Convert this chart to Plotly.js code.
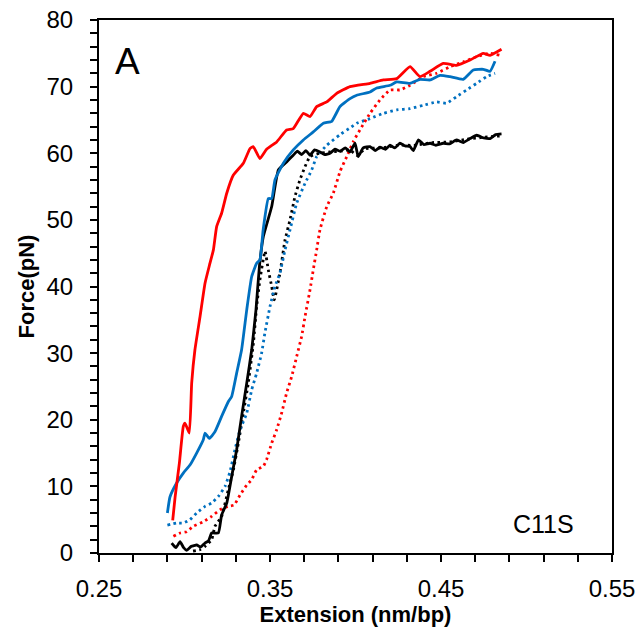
<!DOCTYPE html>
<html>
<head>
<meta charset="utf-8">
<script src="https://cdn.plot.ly/plotly-3.0.1.min.js"></script>
<style>html,body{margin:0;padding:0;background:#fff;}#chart{width:644px;height:635px;}</style>
</head>
<body>
<div id="chart"></div>
<script>
// Extension (nm/bp) and Force (pN) values
const redSolidX = [0.2931,0.2945,0.2970,0.2993,0.3003,0.3028,0.3042,0.3061,0.3091,0.3120,0.3149,0.3169,0.3188,0.3217,0.3247,0.3285,0.3344,0.3383,0.3402,0.3441,0.3480,0.3539,0.3597,0.3636,0.3695,0.3734,0.3773,0.3832,0.3890,0.3968,0.4085,0.4163,0.4241,0.4319,0.4377,0.4436,0.4513,0.4591,0.4670,0.4747,0.4787,0.4854];
const redSolidY = [4.9,8.4,13.5,19.0,19.5,18.0,25.5,30.5,35.5,40.5,43.5,45.5,49.0,51.0,54.0,56.7,58.5,60.7,61.0,59.2,60.6,61.7,63.5,63.7,66.0,65.5,67.0,67.7,69.0,70.0,70.5,71.0,71.2,73.0,71.5,72.3,73.5,73.2,74.0,75.0,74.7,75.6];

const blueSolidX = [0.2900,0.2915,0.2954,0.2993,0.3032,0.3071,0.3110,0.3120,0.3145,0.3178,0.3217,0.3256,0.3276,0.3305,0.3334,0.3364,0.3393,0.3422,0.3441,0.3460,0.3490,0.3510,0.3529,0.3578,0.3636,0.3695,0.3753,0.3812,0.3861,0.3909,0.3968,0.4007,0.4085,0.4124,0.4202,0.4241,0.4319,0.4377,0.4436,0.4494,0.4553,0.4630,0.4689,0.4747,0.4787,0.4816];
const blueSolidY = [6.0,8.4,10.5,12.0,13.2,15.0,17.0,18.0,17.2,18.2,20.5,22.7,23.5,27.0,30.5,36.5,41.5,43.5,44.0,48.5,53.2,53.2,56.0,58.5,60.5,62.0,63.2,64.5,64.8,67.0,68.2,68.7,69.2,69.8,70.2,70.7,70.5,71.1,71.0,71.7,71.5,71.1,72.5,72.6,72.3,73.8];

const blackSolidX = [0.2925,0.2950,0.2974,0.2995,0.3013,0.3040,0.3071,0.3095,0.3120,0.3140,0.3159,0.3198,0.3217,0.3247,0.3276,0.3305,0.3334,0.3364,0.3393,0.3418,0.3438,0.3461,0.3510,0.3549,0.3597,0.3636,0.3660,0.3685,0.3710,0.3734,0.3760,0.3792,0.3820,0.3851,0.3880,0.3910,0.3940,0.3968,0.3997,0.4016,0.4045,0.4085,0.4115,0.4143,0.4175,0.4202,0.4230,0.4260,0.4290,0.4319,0.4338,0.4368,0.4400,0.4436,0.4470,0.4513,0.4550,0.4591,0.4630,0.4670,0.4709,0.4750,0.4787,0.4820,0.4854];
const blackSolidY = [1.5,0.8,1.7,0.8,0.4,1.0,1.2,0.9,1.5,1.8,3.0,3.0,5.7,7.5,11.5,15.5,20.5,25.5,30.5,36.5,43.0,47.5,52.0,57.5,58.7,59.7,60.3,59.8,60.4,59.7,60.5,60.2,59.8,60.0,60.6,60.3,60.8,60.2,61.5,59.5,60.8,61.0,60.4,60.9,60.6,61.2,60.8,61.5,61.1,61.0,60.4,62.0,61.3,61.5,61.2,61.5,61.4,62.0,61.6,62.2,62.7,62.3,62.2,62.8,62.9];

const blackDotX = [0.3050,0.3090,0.3120,0.3159,0.3178,0.3217,0.3256,0.3286,0.3315,0.3344,0.3373,0.3403,0.3422,0.3441,0.3471,0.3490,0.3510,0.3525,0.3558,0.3588,0.3617,0.3646,0.3675,0.3705,0.3734,0.3792,0.3850,0.3910,0.3968,0.4007,0.4060,0.4150,0.4250,0.4350,0.4450,0.4550,0.4650,0.4750,0.4850];
const blackDotY = [0.3,0.5,1.0,2.0,4.0,5.5,9.5,12.5,16.5,21.0,25.5,31.5,37.0,41.0,45.3,42.5,40.0,38.0,42.0,47.0,50.0,53.5,56.0,58.0,59.5,60.0,60.2,60.3,60.5,59.7,60.7,60.8,61.2,61.2,61.6,61.7,62.1,62.4,62.6];

const blueDotX = [0.2900,0.2954,0.2993,0.3032,0.3071,0.3120,0.3159,0.3198,0.3237,0.3266,0.3295,0.3325,0.3364,0.3393,0.3422,0.3451,0.3470,0.3500,0.3529,0.3558,0.3588,0.3617,0.3656,0.3705,0.3744,0.3773,0.3832,0.3910,0.3968,0.4007,0.4085,0.4163,0.4241,0.4319,0.4397,0.4474,0.4533,0.4591,0.4650,0.4709,0.4767,0.4816];
const blueDotY = [4.2,4.5,4.5,5.0,6.0,7.0,7.5,8.5,10.0,12.2,15.5,18.5,21.0,24.5,27.0,30.0,33.0,37.0,40.0,42.0,45.5,48.5,52.5,55.5,57.5,59.5,61.2,62.8,63.8,64.5,65.2,66.0,66.5,66.7,67.2,67.7,67.5,68.5,69.5,70.5,71.5,72.0];

const redDotX = [0.2935,0.2974,0.3013,0.3051,0.3110,0.3159,0.3208,0.3256,0.3290,0.3325,0.3364,0.3393,0.3422,0.3461,0.3480,0.3510,0.3539,0.3568,0.3597,0.3627,0.3656,0.3685,0.3705,0.3734,0.3753,0.3773,0.3792,0.3832,0.3870,0.3910,0.3949,0.3988,0.4026,0.4085,0.4143,0.4202,0.4260,0.4319,0.4397,0.4474,0.4553,0.4630,0.4709,0.4787,0.4845];
const redDotY = [2.5,3.0,3.2,4.0,4.7,5.5,6.5,7.0,7.2,8.7,10.2,11.0,12.5,13.0,14.0,16.5,18.5,21.0,24.0,26.5,29.5,32.5,35.5,39.5,42.5,45.5,48.5,52.0,54.0,57.3,59.5,61.8,63.5,66.0,68.0,69.5,69.5,70.2,71.5,72.0,73.0,73.7,74.5,75.0,74.7];

const xTickVals = [0.25, 0.35, 0.45, 0.55];
const xTickText = ["0.25", "0.35", "0.45", "0.55"];
const yTickVals = [0, 10, 20, 30, 40, 50, 60, 70, 80];

const RED = "#ff0000", BLUE = "#0070c0", BLACK = "#000000";
function tr(x, y, color, dotted) {
  return {x: x, y: y, type: "scatter", mode: "lines", hoverinfo: "skip",
    line: {color: color, width: 2.8, dash: dotted ? "2.5px,3.5px" : "solid", shape: "spline", smoothing: 0.4}};
}
const data = [
  tr(blackDotX, blackDotY, BLACK, true),
  tr(blueDotX, blueDotY, BLUE, true),
  tr(redDotX, redDotY, RED, true),
  tr(blackSolidX, blackSolidY, BLACK, false),
  tr(blueSolidX, blueSolidY, BLUE, false),
  tr(redSolidX, redSolidY, RED, false)
];
const layout = {
  width: 644, height: 635,
  margin: {l: 99, r: 32, t: 20, b: 82},
  paper_bgcolor: "#fff", plot_bgcolor: "#fff",
  showlegend: false,
  font: {family: "Liberation Sans, Arial, sans-serif", color: "#000"},
  xaxis: {
    range: [0.25, 0.55], tickvals: xTickVals, ticktext: xTickText,
    ticks: "outside", ticklen: 7, tickwidth: 2, tickcolor: "#000",
    minor: {dtick: 0.02, tick0: 0.25, ticks: "outside", ticklen: 7, tickwidth: 2, tickcolor: "#000"},
    showline: true, linewidth: 2, linecolor: "#000", mirror: true,
    showgrid: false, zeroline: false,
    tickfont: {size: 24}, ticklabelstandoff: 6,
    title: {text: "<b>Extension (nm/bp)</b>", font: {size: 22}, standoff: 2}
  },
  yaxis: {
    range: [0, 80], tickvals: yTickVals,
    ticks: "outside", ticklen: 7, tickwidth: 2, tickcolor: "#000",
    minor: {dtick: 2, tick0: 0, ticks: "outside", ticklen: 7, tickwidth: 2, tickcolor: "#000"},
    showline: true, linewidth: 2, linecolor: "#000", mirror: true,
    showgrid: false, zeroline: false,
    tickfont: {size: 24}, ticklabelstandoff: 12,
    title: {text: "<b>Force(pN)</b>", font: {size: 22}, standoff: 6}
  },
  annotations: [
    {text: "A", xref: "paper", yref: "paper", x: 0.027, y: 0.965, xanchor: "left", yanchor: "top",
     showarrow: false, font: {size: 37}},
    {text: "C11S", xref: "paper", yref: "paper", x: 0.93, y: 0.055, xanchor: "right", yanchor: "middle",
     showarrow: false, font: {size: 25}}
  ]
};
Plotly.newPlot("chart", data, layout, {displayModeBar: false, staticPlot: true});
</script>
</body>
</html>
